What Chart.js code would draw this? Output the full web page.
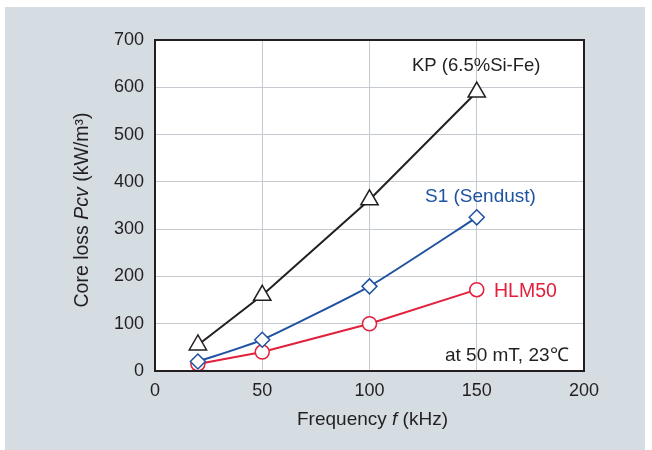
<!DOCTYPE html>
<html>
<head>
<meta charset="utf-8">
<script src="https://cdn.jsdelivr.net/npm/chart.js@4"></script>
<style>
  html, body { margin: 0; padding: 0; background: #fff; }
  #panel { position: absolute; left: 5px; top: 7px; width: 640px; height: 443px; background: #d5dde3; }
  #wrap { position: absolute; left: 0; top: 0; width: 652px; height: 450px; }
</style>
</head>
<body>
<div id="panel"></div>
<div id="wrap"><canvas id="chart" width="652" height="450"></canvas></div>
<script>
const frequencies = [20, 50, 100, 150];
const kpLoss = [55, 160, 362, 590];
const s1Loss = [20, 66, 179, 325];
const hlmLoss = [15, 40, 100, 172];
const xTicks = [0, 50, 100, 150, 200];
const yTicks = [0, 100, 200, 300, 400, 500, 600, 700];

const INK = "#231f20";
const BLUE = "#1f52a0";
const RED = "#e2203c";
const FONT = "'Liberation Sans', Arial, sans-serif";

const pts = (ys) => frequencies.map((x, i) => ({ x: x, y: ys[i] }));

// draws a string made of [text, italic] pieces, centred on (cx, cy)
function mixedText(ctx, parts, cx, cy, size) {
  let total = 0;
  const widths = parts.map(([t, it]) => {
    ctx.font = (it ? "italic " : "") + size + "px " + FONT;
    const w = ctx.measureText(t).width;
    total += w;
    return w;
  });
  let x = cx - total / 2;
  parts.forEach(([t, it], i) => {
    ctx.font = (it ? "italic " : "") + size + "px " + FONT;
    ctx.fillText(t, x, cy);
    x += widths[i];
  });
}

const decor = {
  id: "decor",
  beforeDraw(chart) {
    const { ctx, chartArea: a } = chart;
    ctx.save();
    ctx.fillStyle = "#fff";
    ctx.fillRect(a.left, a.top, a.right - a.left, a.bottom - a.top);
    ctx.restore();
  },
  afterDatasetsDraw(chart) {
    const { ctx, chartArea: a, scales } = chart;
    ctx.save();
    ctx.strokeStyle = INK;
    ctx.lineWidth = 2;
    ctx.strokeRect(a.left, a.top, a.right - a.left, a.bottom - a.top);

    ctx.textBaseline = "middle";
    ctx.textAlign = "left";
    ctx.fillStyle = INK;
    ctx.font = "18.5px " + FONT;
    ctx.fillText("KP (6.5%Si-Fe)", 412, 66);
    ctx.fillStyle = BLUE;
    ctx.font = "19px " + FONT;
    ctx.fillText("S1 (Sendust)", 425, 197);
    ctx.fillStyle = RED;
    ctx.font = "19.5px " + FONT;
    ctx.fillText("HLM50", 494, 292);
    ctx.fillStyle = INK;
    ctx.font = "19px " + FONT;
    ctx.fillText("at 50 mT, 23\u2103", 445, 356);

    const xc = (scales.x.left + scales.x.right) / 2;
    mixedText(ctx, [["Frequency ", false], ["f", true], [" (kHz)", false]], xc + 3, 420, 19);

    ctx.translate(83, 210);
    ctx.rotate(-Math.PI / 2);
    mixedText(ctx, [["Core loss ", false], ["Pcv", true], [" (kW/m\u00b3)", false]], 0, 0, 19.5);
    ctx.restore();
  }
};

new Chart(document.getElementById("chart"), {
  type: "line",
  data: {
    datasets: [
      {
        data: pts(kpLoss), borderColor: INK, borderWidth: 2,
        pointStyle: "triangle", pointRadius: 10, pointBorderWidth: 1.5,
        pointBorderColor: INK, pointBackgroundColor: "#fff", tension: 0
      },
      {
        data: pts(s1Loss), borderColor: BLUE, borderWidth: 2,
        pointStyle: "rectRot", pointRadius: 7.5, pointBorderWidth: 1.5,
        pointBorderColor: BLUE, pointBackgroundColor: "#fff", tension: 0.15
      },
      {
        data: pts(hlmLoss), borderColor: RED, borderWidth: 2,
        pointStyle: "circle", pointRadius: 7, pointBorderWidth: 1.5,
        pointBorderColor: RED, pointBackgroundColor: "#fff", tension: 0
      }
    ]
  },
  options: {
    responsive: false,
    animation: false,
    layout: { padding: { left: 0, right: 68, top: 40, bottom: 0 } },
    plugins: { legend: { display: false }, tooltip: { enabled: false } },
    scales: {
      x: {
        type: "linear", min: 0, max: 200,
        afterBuildTicks: (s) => { s.ticks = xTicks.map((v) => ({ value: v })); },
        afterFit: (s) => { s.height = 79; },
        grid: { color: "#c5cad0", lineWidth: 1, drawTicks: false },
        border: { display: false },
        ticks: { color: INK, font: { family: FONT, size: 18 }, padding: 9, maxRotation: 0 }
      },
      y: {
        type: "linear", min: 0, max: 700,
        afterBuildTicks: (s) => { s.ticks = yTicks.map((v) => ({ value: v })); },
        afterFit: (s) => { s.width = 155; },
        grid: { color: "#c5cad0", lineWidth: 1, drawTicks: false },
        border: { display: false },
        ticks: { color: INK, font: { family: FONT, size: 18 }, padding: 11 }
      }
    }
  },
  plugins: [decor]
});
</script>
</body>
</html>
